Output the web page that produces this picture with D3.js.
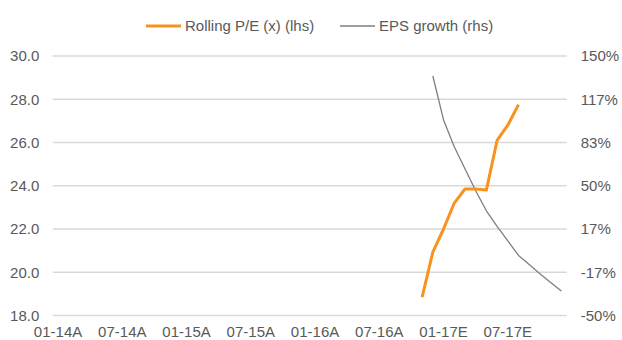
<!DOCTYPE html>
<html>
<head>
<meta charset="utf-8">
<script src="https://cdn.jsdelivr.net/npm/d3@7"></script>
<style>
  html, body { margin: 0; padding: 0; background: #ffffff; }
  svg { display: block; }
  text { font-family: "Liberation Sans", Arial, sans-serif; fill: #595959; }
</style>
</head>
<body>
<svg id="chart" width="622" height="340"></svg>
<script>
// Monthly categories, Jan 2014 through Dec 2017 (A = actual, E = estimate)
const months = [
  "01-14A","02-14A","03-14A","04-14A","05-14A","06-14A","07-14A","08-14A","09-14A","10-14A","11-14A","12-14A",
  "01-15A","02-15A","03-15A","04-15A","05-15A","06-15A","07-15A","08-15A","09-15A","10-15A","11-15A","12-15A",
  "01-16A","02-16A","03-16A","04-16A","05-16A","06-16A","07-16A","08-16A","09-16A","10-16A","11-16A","12-16A",
  "01-17E","02-17E","03-17E","04-17E","05-17E","06-17E","07-17E","08-17E","09-17E","10-17E","11-17E","12-17E"
];
const tickLabels = ["01-14A","07-14A","01-15A","07-15A","01-16A","07-16A","01-17E","07-17E"];

// Rolling P/E (x), left axis
const peMonths = ["11-16A","12-16A","01-17E","02-17E","03-17E","04-17E","05-17E","06-17E","07-17E","08-17E"];
const peValues = [18.85, 20.93, 22.0, 23.2, 23.85, 23.85, 23.8, 26.1, 26.8, 27.75];

// EPS growth (%), right axis
const epsMonths = ["12-16A","01-17E","02-17E","03-17E","04-17E","05-17E","06-17E","07-17E","08-17E","09-17E","10-17E","11-17E","12-17E"];
const epsValues = [134.6, 100.7, 80.1, 63.1, 46.1, 30.7, 18.7, 7.5, -3.7, -10.6, -17.8, -24.5, -31.2];

const leftTicks = [18, 20, 22, 24, 26, 28, 30];
const rightTicks = [-50, -50 + 200/6, -50 + 400/6, 50, -50 + 800/6, -50 + 1000/6, 150];

const svg = d3.select("#chart");
const plot = { left: 52.7, right: 566.7, top: 56, bottom: 315.5 };

// Plain hyphen-minus for negative numbers
const locale = d3.formatLocale({ decimal: ".", thousands: ",", grouping: [3], currency: ["", ""], minus: "-" });
const fmtPct = d => locale.format(".0f")(d) + "%";

const x = d3.scaleBand().domain(months).range([plot.left, plot.right]).padding(0);
const yL = d3.scaleLinear().domain([18, 30]).range([plot.bottom, plot.top]);
const yR = d3.scaleLinear().domain([-50, 150]).range([plot.bottom, plot.top]);
const cx = m => x(m) + x.bandwidth() / 2;

// Horizontal gridlines
svg.append("g")
  .selectAll("line")
  .data(leftTicks)
  .join("line")
  .attr("x1", plot.left).attr("x2", plot.right)
  .attr("y1", d => yL(d)).attr("y2", d => yL(d))
  .attr("stroke", "#d9d9d9")
  .attr("stroke-width", 1.3);

// Left axis labels
const gL = svg.append("g")
  .attr("transform", `translate(${plot.left},0)`)
  .call(d3.axisLeft(yL).tickValues(leftTicks).tickFormat(locale.format(".1f")).tickSize(0).tickPadding(13.4));
gL.select(".domain").remove();
gL.selectAll("text").style("font-size", "15px").attr("fill", "#595959");

// Right axis labels
const gR = svg.append("g")
  .attr("transform", `translate(${plot.right},0)`)
  .call(d3.axisRight(yR).tickValues(rightTicks).tickFormat(fmtPct).tickSize(0).tickPadding(14));
gR.select(".domain").remove();
gR.selectAll("text").style("font-size", "15px").attr("fill", "#595959");

// Bottom category labels
const gB = svg.append("g")
  .attr("transform", `translate(0,${plot.bottom})`)
  .call(d3.axisBottom(x).tickValues(tickLabels).tickSize(0));
gB.select(".domain").remove();
gB.selectAll("text")
  .style("font-size", "15px")
  .attr("fill", "#595959")
  .attr("y", 21.5)
  .attr("dy", "0");

// EPS growth line
const epsLine = d3.line().x((d, i) => cx(epsMonths[i])).y(d => yR(d));
svg.append("path")
  .datum(epsValues)
  .attr("d", epsLine)
  .attr("fill", "none")
  .attr("stroke", "#7f7f7f")
  .attr("stroke-width", 1.3)
  .attr("stroke-linejoin", "round");

// Rolling P/E line
const peLine = d3.line().x((d, i) => cx(peMonths[i])).y(d => yL(d));
svg.append("path")
  .datum(peValues)
  .attr("d", peLine)
  .attr("fill", "none")
  .attr("stroke", "#f7931e")
  .attr("stroke-width", 3)
  .attr("stroke-linejoin", "round");

// Legend
const legend = [
  { label: "Rolling P/E (x) (lhs)", color: "#f7931e", width: 3, x: 146 },
  { label: "EPS growth (rhs)", color: "#7f7f7f", width: 1.3, x: 340 }
];
const lg = svg.append("g").selectAll("g").data(legend).join("g")
  .attr("transform", d => `translate(${d.x},26)`);
lg.append("line")
  .attr("x1", 0).attr("x2", 35).attr("y1", 0).attr("y2", 0)
  .attr("stroke", d => d.color).attr("stroke-width", d => d.width);
lg.append("text")
  .attr("x", 39).attr("y", 0).attr("dy", "0.35em")
  .style("font-size", "15px")
  .attr("fill", "#595959")
  .text(d => d.label);
</script>
</body>
</html>
